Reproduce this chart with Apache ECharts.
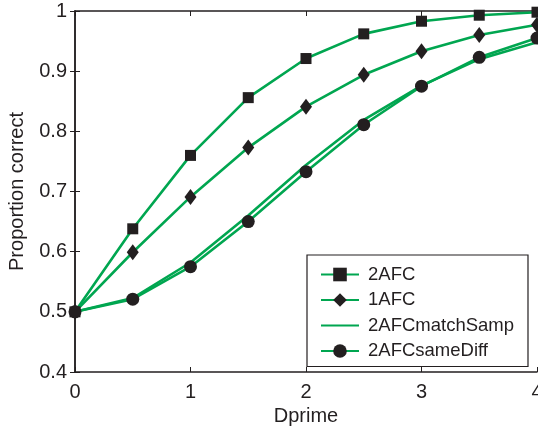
<!DOCTYPE html>
<html>
<head>
<meta charset="utf-8">
<script src="https://cdn.jsdelivr.net/npm/echarts@6/dist/echarts.min.js"></script>
<style>
  html, body { margin: 0; padding: 0; background: #fff; }
  #chart { width: 538px; height: 427px; }
</style>
</head>
<body>
<div id="chart"></div>
<script>
// Sensitivity values (d') and proportion correct for each paradigm
const dprime = [0, 0.5, 1, 1.5, 2, 2.5, 3, 3.5, 4];
const afc2 = [0.5, 0.638, 0.760, 0.856, 0.921, 0.962, 0.983, 0.993, 0.998];
const afc1 = [0.5, 0.599, 0.691, 0.773, 0.841, 0.894, 0.933, 0.960, 0.977];
const matchSamp = [0.5, 0.523, 0.582, 0.660, 0.744, 0.819, 0.876, 0.920, 0.948];
const sameDiff = [0.5, 0.521, 0.575, 0.650, 0.733, 0.811, 0.875, 0.923, 0.955];
const seriesNames = ['2AFC', '1AFC', '2AFCmatchSamp', '2AFCsameDiff'];
const xTicks = [0, 1, 2, 3, 4];
const yTicks = [0.4, 0.5, 0.6, 0.7, 0.8, 0.9, 1];

const GREEN = '#00a650';
const INK = '#231f20';
const FONT = 'Liberation Sans, Arial, Helvetica, sans-serif';

function pairs(ys) { return dprime.map((x, i) => [x, ys[i]]); }

function lineSeries(name, ys, symbol, size) {
  return {
    name: name,
    type: 'line',
    data: pairs(ys),
    symbol: symbol,
    symbolSize: size,
    showSymbol: symbol !== 'none',
    lineStyle: { color: GREEN, width: 2.6 },
    itemStyle: { color: INK, borderWidth: 0 },
    emphasis: { disabled: true },
    animation: false,
    clip: false,
    z: 3
  };
}

const chart = echarts.init(document.getElementById('chart'), null, { renderer: 'canvas' });

const axisLine = { show: true, lineStyle: { color: INK, width: 1.5 } };
const tick = { show: true, inside: true, length: 5, lineStyle: { color: INK, width: 1 } };

chart.setOption({
  backgroundColor: '#fff',
  animation: false,
  grid: { left: 75, right: 1, top: 11, bottom: 55, containLabel: false, outerBoundsMode: 'none' },
  legend: {
    show: true,
    data: [
      { name: seriesNames[0] },
      { name: seriesNames[1] },
      // line-only entry: hide the fallback marker
      { name: seriesNames[2], itemStyle: { color: 'rgba(0,0,0,0)', opacity: 0 } },
      { name: seriesNames[3] }
    ],
    orient: 'vertical',
    left: 307,
    top: 255,
    width: 225,
    padding: [10, 14, 6, 13],
    itemGap: 6.5,
    itemWidth: 38,
    itemHeight: 17,
    borderColor: INK,
    borderWidth: 1.2,
    backgroundColor: '#fff',
    textStyle: { color: INK, fontFamily: FONT, fontSize: 18.5, padding: [0, 0, 0, 4] },
    selectedMode: false
  },
  xAxis: [
    {
      type: 'value', min: 0, max: 4, interval: 1,
      position: 'bottom',
      name: 'Dprime', nameLocation: 'middle', nameGap: 27,
      nameTextStyle: { color: INK, fontFamily: FONT, fontSize: 20 },
      axisLine: axisLine, axisTick: tick,
      axisLabel: { color: INK, fontFamily: FONT, fontSize: 20, margin: 10,
        formatter: v => xTicks.includes(v) ? String(v) : '' },
      splitLine: { show: false }
    },
    {
      type: 'value', min: 0, max: 4, interval: 1,
      position: 'top',
      axisLine: axisLine, axisTick: tick,
      axisLabel: { show: false }, splitLine: { show: false }
    }
  ],
  yAxis: [
    {
      type: 'value', min: 0.4, max: 1, interval: 0.1,
      position: 'left',
      name: 'Proportion correct', nameLocation: 'middle', nameGap: 48,
      nameTextStyle: { color: INK, fontFamily: FONT, fontSize: 20 },
      axisLine: axisLine, axisTick: tick,
      axisLabel: { color: INK, fontFamily: FONT, fontSize: 20, margin: 8,
        formatter: v => {
          const r = Math.round(v * 10) / 10;
          return yTicks.includes(r) ? (r === 1 ? '1' : r.toFixed(1)) : '';
        } },
      splitLine: { show: false }
    },
    {
      type: 'value', min: 0.4, max: 1, interval: 0.1,
      position: 'right',
      axisLine: axisLine, axisTick: tick,
      axisLabel: { show: false }, splitLine: { show: false }
    }
  ],
  series: [
    lineSeries(seriesNames[0], afc2, 'rect', 11),
    lineSeries(seriesNames[1], afc1, 'diamond', [12, 16]),
    lineSeries(seriesNames[2], matchSamp, 'none', 0),
    lineSeries(seriesNames[3], sameDiff, 'circle', 13)
  ]
});
</script>
</body>
</html>
